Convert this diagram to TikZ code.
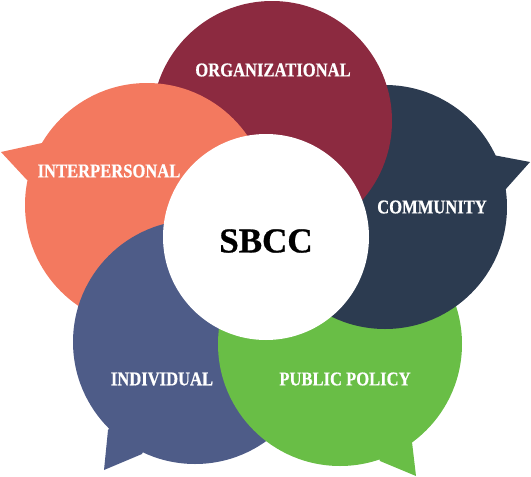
\documentclass[tikz,border=0pt]{standalone}
\usepackage{fontspec}
\setmainfont{Liberation Serif}
\newfontfamily\lblfont{Liberation Serif}[FakeStretch=0.85,FakeBold=0.6]
\newfontfamily\hubfont{Liberation Serif}[FakeBold=0.8]
\definecolor{cRed}{HTML}{8C2A40}
\definecolor{cNavy}{HTML}{2C3B50}
\definecolor{cGreen}{HTML}{69BE46}
\definecolor{cBlue}{HTML}{4E5C88}
\definecolor{cSalmon}{HTML}{F3795F}
\tikzset{
  lbl/.style={text=white, font=\lblfont\bfseries\fontsize{19.5}{19.5}\selectfont, inner sep=0pt},
  hub/.style={text=black, font=\hubfont\bfseries\fontsize{35}{35}\selectfont, inner sep=0pt}
}
\begin{document}
\begin{tikzpicture}[x=1pt,y=-1pt]
\useasboundingbox (0,0) rectangle (531,477);
% Individual (bottom layer)
\fill[cBlue] (195,342) circle (122);
\fill[cBlue] (108,430) -- (104,470) -- (142,454) -- (195,342) -- cycle;
% Public policy
\fill[cGreen] (340,344) circle (122);
\fill[cGreen] (412,442) -- (416,476) -- (380,461) -- (340,344) -- cycle;
% Community
\fill[cNavy] (385,207) circle (122);
\fill[cNavy] (493,155) -- (530,162) -- (505,190) -- (385,207) -- cycle;
% Organizational
\fill[cRed] (272,121) circle (120);
% Interpersonal
\fill[cSalmon] (147,205) circle (122);
\fill[cSalmon] (42,143) -- (1,152) -- (27,180) -- (147,205) -- cycle;
% Individual over interpersonal
\begin{scope}
  \clip (147,205) circle (124);
  \fill[cBlue] (195,342) circle (122);
\end{scope}
% Centre
\fill[white] (266,237) circle (103);
\node[hub] (sbcc) at (266,241) {SBCC};
\node[lbl] (org) at (273,70) {ORGANIZATIONAL};
\node[lbl] (inter) at (109,171) {INTERPERSONAL};
\node[lbl] (comm) at (432,207) {COMMUNITY};
\node[lbl] (indiv) at (162,379) {INDIVIDUAL};
\node[lbl] (pub) at (345,379) {PUBLIC POLICY};
\end{tikzpicture}
\end{document}
